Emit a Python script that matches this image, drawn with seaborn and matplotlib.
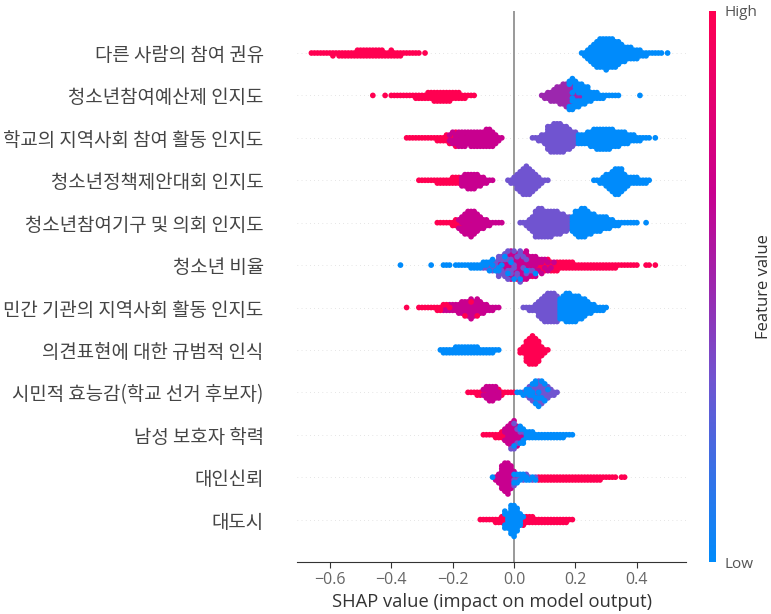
import numpy as np
import pandas as pd
import seaborn as sns
import matplotlib as mpl
import matplotlib.pyplot as plt
from matplotlib.colors import LinearSegmentedColormap

labels = ['다른 사람의 참여 권유', '청소년참여예산제 인지도', '학교의 지역사회 참여 활동 인지도',
          '청소년정책제안대회 인지도', '청소년참여기구 및 의회 인지도', '청소년 비율',
          '민간 기관의 지역사회 활동 인지도', '의견표현에 대한 규범적 인식',
          '시민적 효능감(학교 선거 후보자)', '남성 보호자 학력', '대인신뢰', '대도시']

# (first bin, points per 0.01 wide bin)
r1_high = (-0.66, [1,1,1,1,1,1,1,2,1,2,2,2,2,2,2,3,3,3,3,3,3,3,3,3,2,2,3,2,2,2,1,1,1,1,1,1,0,1])
r1_low = (0.22, [1,2,4,6,8,10,11,11,12,11,11,10,9,7,6,5,5,4,4,3,2,2,1,1,1,1,1,0,1])
r2_high = (-0.46, [1,0,0,0,1,0,1,1,1,1,1,1,1,1,2,2,2,2,3,3,4,4,4,4,4,4,3,3,3,2,2,1,1,1])
r2_mid = (0.09, [1,2,3,4,5,6,7,8,9,7,5,3,2,2])
r2_low = (0.18, [4,7,7,7,6,7,6,4,3,3,2,2,1,1,1,1,1,0,0,0,0,0,0,1])
r3_high = (-0.35, [1,1,1,1,1,1,1,1,1,1,2,2,2,3,2,2,2,1,1,1])
r3_mag = (-0.21, [2,3,4,5,5,5,5,6,6,6,6,6,7,7,6,4,2,1])
r3_pur = (0.06, [1,1,2,3,4,9,10,11,11,11,10,9,8,6,5])
r3_low = (0.21, [4,4,4,5,6,7,8,8,8,8,8,7,6,6,5,5,4,3,3,2,2,1,1,1,0,1])
r4_high = (-0.31, [1,1,1,1,1,1,2,2,2,2,2,3,3,3])
r4_mag = (-0.17, [4,5,6,6,6,5,4,3,2,1,1])
r4_pur = (-0.02, [1,2,3,6,8,10,11,10,8,6,4,2,1,1])
r4_low = (0.26, [1,1,2,3,5,6,8,10,10,9,6,4,3,3,3,2,2,2,1])
r5_high = (-0.25, [1,1,1,1,1,2,3,2,1,1,1,1])
r5_mag = (-0.18, [2,5,7,8,9,9,7,5,4,3,2,1,1,1,1])
r5_pur = (0.02, [1,1,2,4,6,10,11,11,10,10,10,9,9,8,7,6,5])
r5_low = (0.19, [6,9,10,11,11,9,8,7,6,6,5,5,4,3,2,2,1,1,1,1,1,1,0,0,1])
r6_high = (-0.02, [1,1,1,1,1,1,1,1,2,2,2,3,3,3,3,3,4,3,3,3,3,3,2,2,2,2,2,2,2,2,2,2,2,2,2,2,1,1,1,1,1,1,1,0,0,1,1,0,1])
r6_mag = (-0.05, [2,2,4,5,6,6,6,7,7,7,6,5,5,3,3,2,2,1,1])
r6_pur = (-0.10, [1,1,2,3,3,4,4,4,4,3,3,3,3,2,2,1,1])
r6_low = (-0.37, [1,0,0,0,0,0,0,0,0,0,1,0,0,0,1,1,1,0,1,1,1,1,1,2,2,2,2,2,2,2,2,1,2,1,1,1,1,1,0,1,0,1,0,0,1])
r7_high = (-0.35, [1,0,0,0,1,1,1,1,1,1,2,2,1,1,1,0,0,0,0,1,0,1,0,1])
r7_mag = (-0.23, [2,2,2,3,3,4,5,5,6,7,6,6,5,4,3,2,2,1,1])
r7_pur = (0.03, [1,1,2,2,3,6,8,10,11,11,11,10])
r7_low = (0.15, [8,9,11,11,10,10,9,8,7,5,4,3,2,2,2,1])
r8_low = (-0.24, [1,2,2,2,2,3,3,3,3,3,3,3,3,2,2,2,2,2,1,1])
r8_high = (0.02, [2,3,8,10,11,10,8,4,2,1])
r9_high = (-0.15, [1,1,1,2,2,1,1,0,0,1,1,2,1,1,1,1])
r9_mag = (-0.10, [2,4,6,6,4,3])
r9_pur = (0.03, [1,1,2,4,5,7,7,5,4,3,2,1])
r9_low = (0.01, [1,1,1,2,3,3,4,3,2,2,1])
r10_high = (-0.10, [1,1,1,1,2,2,3,2])
r10_mag = (-0.03, [3,7,9,8,6,3,2])
r10_pur = (-0.01, [1,2,2,1,1])
r10_low = (0.0, [1,0,3,3,3,3,3,2,2,2,2,2,2,2,2,2,2,1,1,1])
r11_high = (0.08, [2,2,2,2,2,2,2,2,2,2,2,2,2,2,2,2,2,2,2,2,2,1,1,1,1,1,0,1,1])
r11_mag = (-0.06, [2,4,9,11,12,9,2,1])
r11_pur = (0.0, [2,1,1,1,1,1,1,1])
r11_low = (-0.07, [1,0,0,0,0,0,0,2,2,2,2,2,1,1,1])
r12_high = (-0.11, [1,1,1,1,1,2,2,3,3,0,0,0,0,0,3,3,3,3,2,2,2,2,2,2,2,2,2,2,2,1,1])
r12_low = (-0.03, [4,6,11,12,9,5,1])

LOW, PUR, MID, MAG, HIGH = 0.0, 0.33, 0.5, 0.67, 1.0
rows = [
    [(HIGH, r1_high), (LOW, r1_low)],
    [(HIGH, r2_high), (MID, r2_mid), (LOW, r2_low)],
    [(HIGH, r3_high), (MAG, r3_mag), (PUR, r3_pur), (LOW, r3_low)],
    [(HIGH, r4_high), (MAG, r4_mag), (PUR, r4_pur), (LOW, r4_low)],
    [(HIGH, r5_high), (MAG, r5_mag), (PUR, r5_pur), (LOW, r5_low)],
    [(HIGH, r6_high), (MAG, r6_mag), (PUR, r6_pur), (LOW, r6_low)],
    [(MAG, r7_mag), (HIGH, r7_high), (PUR, r7_pur), (LOW, r7_low)],
    [(LOW, r8_low), (HIGH, r8_high)],
    [(HIGH, r9_high), (MAG, r9_mag), (PUR, r9_pur), (LOW, r9_low)],
    [(HIGH, r10_high), (MAG, r10_mag), (PUR, r10_pur), (LOW, r10_low)],
    [(HIGH, r11_high), (MAG, r11_mag), (PUR, r11_pur), (LOW, r11_low)],
    [(HIGH, r12_high), (LOW, r12_low)],
]

BIN = 0.01
parts = []
for name, row in zip(labels, rows):
    for level, (first, counts) in row:
        centers = first + BIN * np.arange(len(counts))
        shap_vals = np.repeat(np.round(centers, 2), counts)
        parts.append(pd.DataFrame({'feature': name, 'shap': shap_vals, 'value': level}))
df = pd.concat(parts, ignore_index=True)

cmap = LinearSegmentedColormap.from_list('red_blue', [(0, '#008bfb'), (0.33, '#7054d0'), (0.5, '#9b27ae'),
                                                      (0.67, '#c8008f'), (1, '#ff0051')])
text_col = '#444444'
kr = ['Noto Sans CJK KR', 'DejaVu Sans']
plt.rcParams['font.family'] = ['Open Sans', 'DejaVu Sans']

W, H = 771, 614
fig = plt.figure(figsize=(W / 100, H / 100), dpi=100)
ax = fig.add_axes([297 / W, 1 - 562 / H, (686 - 297) / W, (562 - 10.6) / H])

# swarm with small dots so the stacks stay tight, then grow them afterwards
sns.swarmplot(data=df, x='shap', y='feature', hue='value', order=labels, orient='h', ax=ax,
              palette=cmap, hue_norm=(0, 1), size=1.92, linewidth=0,
              warn_thresh=1, legend=False)
ax.set_xlim(-0.707, 0.56)
ax.set_ylim(12, -1)
fig.canvas.draw()
for coll in ax.collections:
    del coll.draw
    coll.set_sizes([5.7 * 0.72 * 5.7 * 0.72])
    coll.set_zorder(3)

for i in range(len(labels)):
    ax.axhline(i, color='#cccccc', lw=0.5, dashes=(1, 5), zorder=1)
ax.axvline(0, color='#999999', lw=1.4, zorder=2)

for s in ['top', 'left', 'right']:
    ax.spines[s].set_visible(False)
ax.spines['bottom'].set_color('#333333')
ax.set_ylabel('')
ax.set_xlabel('SHAP value (impact on model output)', fontsize=13.2, color='#333333', labelpad=3)
ax.set_xticks([-0.6, -0.4, -0.2, 0.0, 0.2, 0.4])
ax.tick_params(axis='x', labelsize=11.5, labelcolor='#666666', color='#333333', length=4)
ax.tick_params(axis='y', length=0, pad=24)
for t in ax.get_yticklabels():
    t.set_fontfamily(kr)
    t.set_fontsize(13.6)
    t.set_color(text_col)

cax = fig.add_axes([709 / W, 1 - 562 / H, 7 / W, (562 - 11) / H])
cb = fig.colorbar(mpl.cm.ScalarMappable(norm=mpl.colors.Normalize(0, 1), cmap=cmap), cax=cax)
cb.outline.set_visible(False)
cb.set_ticks([0, 1], labels=['Low', 'High'])
cb.ax.tick_params(length=0, labelsize=11, labelcolor='#555555', pad=6)
cb.set_label('Feature value', fontsize=12, color='#333333', labelpad=-1)

fig.savefig('out.png', dpi=100)
